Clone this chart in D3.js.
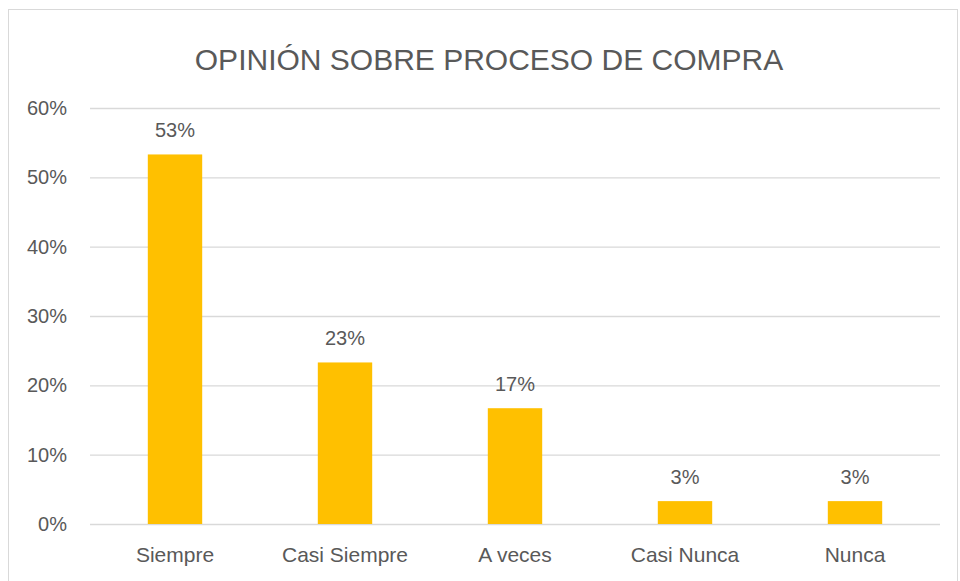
<!DOCTYPE html>
<html lang='es'>
  <meta charset='utf-8'>
  <style>
    body{
      margin: 0;
      background: #fff;
    }
    svg{
      display: block;
      font-family: 'Liberation Sans', Arial, sans-serif;
    }
    text{
      fill: #595959;
    }
  </style>
  <body>
    <svg class='chart' width='960' height='581'></svg>

    <script src='https://d3js.org/d3.v7.min.js'></script>
    <script>
      // datos
      const categories = ['Siempre', 'Casi Siempre', 'A veces', 'Casi Nunca', 'Nunca']
      const values = [0.533, 0.233, 0.167, 0.033, 0.033]
      const tickValues = [0, 0.1, 0.2, 0.3, 0.4, 0.5, 0.6]
      const title = 'OPINIÓN SOBRE PROCESO DE COMPRA'

      const svg = d3.select('svg')

      // marco del gráfico
      svg.append('rect')
        .attr('x', 8.5).attr('y', 9.5)
        .attr('width', 949).attr('height', 580)
        .attr('fill', 'none')
        .attr('stroke', '#d9d9d9')

      const plot = {left: 90, right: 940, top: 108, bottom: 524}

      const x = d3.scaleBand()
        .domain(categories)
        .range([plot.left, plot.right])
        .paddingInner(0.68)
        .paddingOuter(0.34)

      const y = d3.scaleLinear()
        .domain([0, 0.6])
        .range([plot.bottom, plot.top])

      // líneas de cuadrícula
      const yAxis = d3.axisLeft(y)
        .tickValues(tickValues)
        .tickFormat(d3.format('.0%'))
        .tickSize(-(plot.right - plot.left))
        .tickPadding(23)

      const gy = svg.append('g')
        .attr('transform', `translate(${plot.left},0)`)
        .call(yAxis)
      gy.select('.domain').remove()
      gy.selectAll('line').attr('stroke', '#d9d9d9').attr('stroke-width', 1.3)
      gy.selectAll('text')
        .attr('font-size', 20)
        .attr('fill', '#595959')
        .attr('font-family', 'Liberation Sans, Arial, sans-serif')

      // barras
      svg.append('g').selectAll('rect')
        .data(values)
        .join('rect')
        .attr('x', (d, i) => x(categories[i]))
        .attr('y', (d) => y(d))
        .attr('width', x.bandwidth())
        .attr('height', (d) => y(0) - y(d))
        .attr('fill', '#ffc000')

      // etiquetas de valores
      svg.append('g').selectAll('text')
        .data(values)
        .join('text')
        .attr('x', (d, i) => x(categories[i]) + x.bandwidth() / 2)
        .attr('y', (d) => y(d) - 17)
        .attr('text-anchor', 'middle')
        .attr('font-size', 20)
        .text((d) => d3.format('.0%')(d))

      // eje x: categorías
      const xAxis = d3.axisBottom(x).tickSize(0).tickPadding(23)
      const gx = svg.append('g')
        .attr('transform', `translate(0,${plot.bottom})`)
        .call(xAxis)
      gx.select('.domain').remove()
      gx.selectAll('text')
        .attr('font-size', 21)
        .attr('fill', '#595959')
        .attr('font-family', 'Liberation Sans, Arial, sans-serif')

      // título
      svg.append('text')
        .attr('x', 489)
        .attr('y', 70)
        .attr('text-anchor', 'middle')
        .attr('font-size', 30)
        .text(title)
    </script>
</body>
</html>
